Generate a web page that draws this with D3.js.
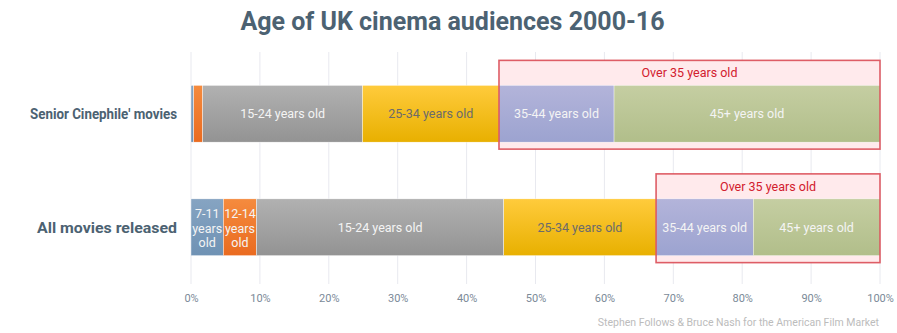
<!DOCTYPE html>
<html><head><meta charset="utf-8">
<script src="https://cdn.jsdelivr.net/npm/d3@7"></script>
<style>body{margin:0;background:#fff;font-family:Roboto,"Noto Sans",sans-serif;}</style>
</head><body><div id="chart"></div>
<script>
const categories = ["Senior Cinephile' movies", "All movies released"];
const ageGroups = ["7-11 years old", "12-14 years old", "15-24 years old", "25-34 years old", "35-44 years old", "45+ years old"];
const seniorValues = [0.4, 1.3, 23.2, 19.8, 16.7, 38.6];
const allValues = [4.7, 4.8, 35.9, 22.1, 14.1, 18.4];
const tickValues = [0,10,20,30,40,50,60,70,80,90,100];
const highlightLabel = "Over 35 years old";
const highlightFrom = 4; // index of first group over 35
const title = "Age of UK cinema audiences 2000-16";
const credit = "Stephen Follows & Bruce Nash for the American Film Market";

const colorsTop = ["#86a4c2","#f58b3e","#b1b1b1","#ffcb3c","#b3b4da","#c5cea2"];
const colorsBot = ["#6f92b4","#ea6b20","#939393","#e8b000","#9ca3d0","#b1be8a"];
const textColors = ["#f4f4f4","#f4f4f4","#f4f4f4","#6b6b6b","#f4f4f4","#f4f4f4"];
const catWidths = [147, 140];
const catSizes = [14.5, 15.5];

const W = 897, H = 333;
const svg = d3.select("#chart").append("svg").attr("width", W).attr("height", H);
const defs = svg.append("defs");
ageGroups.forEach((g,i)=>{
  const lg = defs.append("linearGradient").attr("id","g"+i).attr("x1",0).attr("y1",0).attr("x2",0).attr("y2",1);
  lg.append("stop").attr("offset","0%").attr("stop-color",colorsTop[i]);
  lg.append("stop").attr("offset","100%").attr("stop-color",colorsBot[i]);
});

const x = d3.scaleLinear().domain([0,100]).range([191,880]);
const y = d3.scaleBand().domain(categories).range([57,284]).paddingInner(0.5).paddingOuter(0.25);

svg.append("text").attr("x", W/2+4).attr("y", 30).attr("text-anchor","middle")
  .attr("font-size",25).attr("font-weight",700).attr("fill","#4c6272").text(title);

// gridlines
svg.append("g").selectAll("line").data(tickValues).join("line")
  .attr("x1",d=>x(d)).attr("x2",d=>x(d)).attr("y1",52).attr("y2",284)
  .attr("stroke","#e8e9ef").attr("stroke-width",1);

// axis
const axis = svg.append("g").attr("transform","translate(0,284)")
  .call(d3.axisBottom(x).tickValues(tickValues).tickFormat(d=>d+"%").tickSize(0).tickPadding(10));
axis.select(".domain").remove();
axis.selectAll("text").attr("font-family","Roboto, sans-serif").attr("font-size",11).attr("fill","#7b8a98");

const series = [seniorValues, allValues];
const boxLayer = svg.append("g");
const barLayer = svg.append("g");
const topLayer = svg.append("g");
categories.forEach((cat, ci)=>{
  const vals = series[ci];
  let acc = 0;
  const segs = vals.map((v,i)=>{ const s={i, x0:acc, x1:acc+v, v}; acc+=v; return s; });
  const by = y(cat), bh = y.bandwidth();
  const hx0 = x(segs[highlightFrom].x0), hx1 = x(100);
  boxLayer.append("rect").attr("x",hx0).attr("y",by-25).attr("width",hx1-hx0).attr("height",bh+32)
    .attr("fill","#ffeaec");
  const g = barLayer.append("g");
  g.selectAll("rect").data(segs).join("rect")
    .attr("x",d=>x(d.x0)).attr("width",d=>x(d.x1)-x(d.x0))
    .attr("y",by).attr("height",bh)
    .attr("fill",d=>"url(#g"+d.i+")")
    .attr("stroke","#ffffff").attr("stroke-width",0.4);
  segs.forEach(d=>{
    const w = x(d.x1)-x(d.x0);
    const cx = (x(d.x0)+x(d.x1))/2, cy = by+bh/2;
    const label = ageGroups[d.i];
    if (w > 90) {
      g.append("text").attr("x",cx).attr("y",cy+4.5).attr("text-anchor","middle")
        .attr("font-size",12.5).attr("fill",textColors[d.i]).text(label);
    } else if (w > 25) {
      label.split(" ").forEach((p,k)=>{
        g.append("text").attr("x",cx).attr("y",cy+5.5+(k-1)*14.5).attr("text-anchor","middle")
          .attr("font-size",12.5).attr("fill",textColors[d.i]).text(p);
      });
    }
  });
  svg.append("text").attr("x",177).attr("y",by+bh/2+5.5).attr("text-anchor","end")
    .attr("font-size",catSizes[ci]).attr("font-weight",700).attr("fill","#4c6272")
    .attr("textLength",catWidths[ci]).attr("lengthAdjust","spacingAndGlyphs").text(cat);
  topLayer.append("rect").attr("x",hx0).attr("y",by-25).attr("width",hx1-hx0).attr("height",bh+32)
    .attr("fill","none").attr("stroke","#d8434c").attr("stroke-opacity",0.85).attr("stroke-width",1.6);
  topLayer.append("text").attr("x",(hx0+hx1)/2).attr("y",by-8).attr("text-anchor","middle")
    .attr("font-size",12.5).attr("fill","#d2202e").text(highlightLabel);
});

svg.append("text").attr("x",879).attr("y",326).attr("text-anchor","end")
  .attr("font-size",10.5).attr("fill","#bcbcbc").text(credit);
</script></body></html>
